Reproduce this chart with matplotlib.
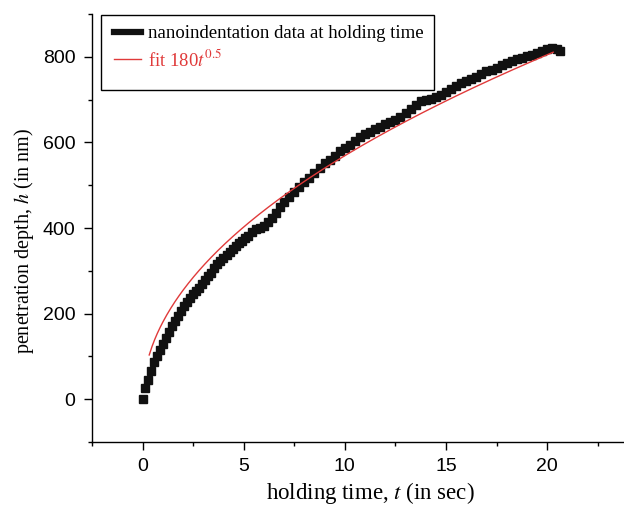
import matplotlib.pyplot as plt
from matplotlib.patches import Rectangle
import numpy as np

plt.rcParams['mathtext.fontset'] = 'stix'

# holding time (s) and penetration depth (nm)
tempo = [0, 0.12, 0.26, 0.4, 0.55, 0.7, 0.85, 1.0, 1.15, 1.3, 1.45, 1.6, 1.75,
         1.9, 2.05, 2.2, 2.35, 2.5, 2.65, 2.8, 2.95, 3.1, 3.25, 3.4, 3.55, 3.7,
         3.85, 4.0, 4.15, 4.3, 4.45, 4.6, 4.75, 4.9, 5.05, 5.2, 5.4, 5.6, 5.8,
         6.0, 6.2, 6.4, 6.6, 6.8, 7.0, 7.25, 7.5, 7.75, 8.0, 8.25, 8.5, 8.75,
         9.0, 9.25, 9.5, 9.75, 10.0, 10.25, 10.5, 10.75, 11.0, 11.25, 11.5,
         11.75, 12.0, 12.25, 12.5, 12.75, 13.0, 13.25, 13.5, 13.75, 14.0, 14.25,
         14.5, 14.75, 15.0, 15.25, 15.5, 15.75, 16.0, 16.25, 16.5, 16.75, 17.0,
         17.25, 17.5, 17.75, 18.0, 18.25, 18.5, 18.75, 19.0, 19.25, 19.5, 19.75,
         20.0, 20.25, 20.5, 20.65]
profundidade = [0, 25, 46, 67, 86, 101, 116, 130, 143, 157, 170, 183, 195,
                207, 217, 227, 237, 246, 254, 261, 269, 278, 287, 296, 306, 316,
                323, 330, 337, 345, 352, 358, 364, 370, 376, 382, 390, 397, 400,
                404, 413, 424, 436, 449, 460, 472, 485, 497, 508, 518, 528, 541,
                552, 558, 569, 579, 586, 594, 603, 613, 620, 625, 631,
                637, 643, 647, 653, 660, 669, 678, 688, 696, 700, 702,
                706, 710, 718, 726, 731, 738, 744, 749, 754, 760, 766,
                770, 775, 781, 786, 790, 794, 798, 801, 805, 810, 815,
                819, 821, 819, 814]

# fit h = 180 t^0.5
coef_fit = 180
expo_fit = 0.5
t_fit_ini = 0.33
t_fit_fim = 20.3

fig = plt.figure(figsize=(6.24, 5.05), dpi=100)
ax = fig.add_axes([0.1474, 0.1248, 0.8526, 0.8472])

ax.plot(tempo, profundidade, 's', color='#111111', markersize=6.4,
        label='nanoindentation data at holding time')
t_fit = np.linspace(t_fit_ini, t_fit_fim, 300)
ax.plot(t_fit, coef_fit * t_fit ** expo_fit, color='#e03a3a', lw=1.0,
        label='fit 180$t^{0.5}$')

ax.set_xlim(-2.5, 23.8)
ax.set_ylim(-100, 900)
ax.set_xticks([0, 5, 10, 15, 20])
ax.set_xticks(np.arange(-2.5, 23.8, 2.5), minor=True)
ax.set_yticks([0, 200, 400, 600, 800])
ax.set_yticks(np.arange(-100, 901, 100), minor=True)

for s in ['top', 'right']:
    ax.spines[s].set_visible(False)
for s in ['left', 'bottom']:
    ax.spines[s].set_linewidth(1.0)

ax.tick_params(which='major', direction='out', length=5.8, width=1, pad=6,
               labelsize=14, labelfontfamily='Liberation Sans')
ax.tick_params(which='minor', direction='out', length=3, width=1)

ax.set_xlabel('holding time, $t$ (in sec)', family='Liberation Serif',
              fontsize=16.5, labelpad=3)
ax.set_ylabel('penetration depth, $h$ (in nm)', family='Liberation Serif',
              fontsize=14.5, labelpad=5)
ax.xaxis.label.set_x(0.5226)
ax.yaxis.label.set_y(0.469)

# caixa da legenda
ax.add_patch(Rectangle((0.017, 0.822), 0.626, 0.176, transform=ax.transAxes,
                       fill=False, edgecolor='black', lw=1.0, zorder=5))
leg = ax.legend(loc='upper left', bbox_to_anchor=(0.013, 1.009), frameon=False,
                prop={'family': 'Liberation Serif', 'size': 13.5},
                handlelength=1.45, handletextpad=0.37, labelspacing=0.35,
                borderpad=0.3)
leg.legend_handles[0].set_linestyle('-')
leg.legend_handles[0].set_linewidth(4.5)
leg.legend_handles[0].set_marker('')
leg.get_texts()[1].set_color('#e03a3a')

plt.savefig('out.png', dpi=100)
